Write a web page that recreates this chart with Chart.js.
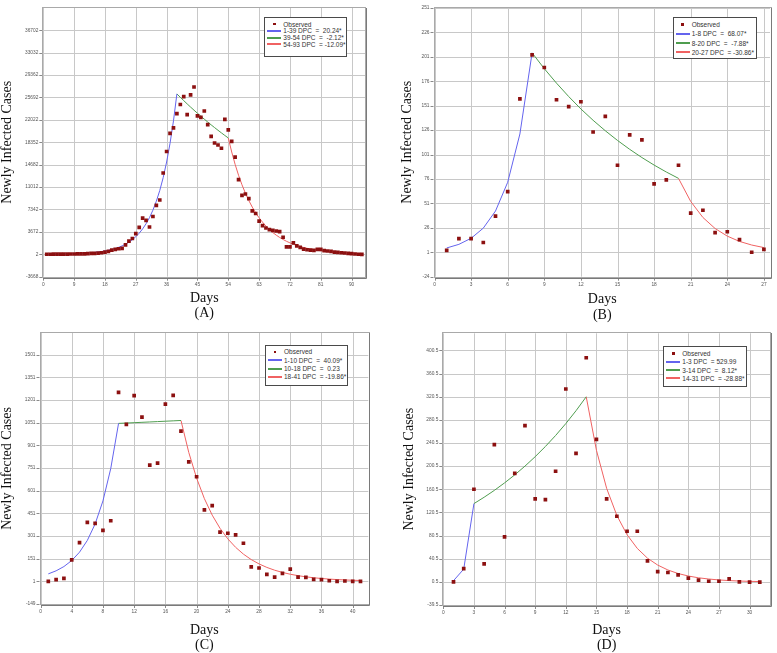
<!DOCTYPE html>
<html>
<head>
<meta charset="utf-8">
<script src="https://cdn.jsdelivr.net/npm/chart.js@4.4.0/dist/chart.umd.min.js"></script>
<style>
  html, body { margin: 0; padding: 0; background: #fff; }
  #page { position: relative; width: 777px; height: 653px; overflow: hidden; }
  canvas { position: absolute; }
  .legend { position: absolute; box-sizing: border-box; background: #fff; border: 1px solid #4a4a4a;
            font: 6.5px "Liberation Sans", Arial, sans-serif; color: #333; }
  .legend .row { display: flex; align-items: center; white-space: pre; }
  .legend .sw { width: 14px; height: 2px; margin: 0 2px 0 2px; flex: none; }
  .legend .dot { width: 2.5px; height: 2.5px; margin: 0 7.7px 0 7.8px; flex: none; }
</style>
</head>
<body>
<div id="page">
  <canvas id="chartA" width="385" height="325" style="left:0;top:0"></canvas>
  <canvas id="chartB" width="387" height="325" style="left:390px;top:0"></canvas>
  <canvas id="chartC" width="385" height="328" style="left:0;top:325px"></canvas>
  <canvas id="chartD" width="387" height="328" style="left:390px;top:325px"></canvas>
</div>
<script>
// ---- (A) ----
const obsA = [10, 15, 20, 25, 30, 35, 40, 50, 55, 60, 70, 80, 120, 140, 160, 180, 260, 370, 490, 700,
              810, 910, 970, 1560, 2150, 2590, 3400, 4420, 5930, 5550, 4470, 6200, 8030, 8900, 13320, 16840, 19800, 20700, 23040, 24540,
              25840, 22880, 26110, 27410, 22670, 22440, 23480, 21260, 19310, 18230, 17910, 17370, 22120, 20400, 18500, 15910, 12240, 9650, 9880, 9110,
              7120, 6690, 5440, 4690, 4310, 4050, 3930, 3820, 3720, 2800, 1230, 1230, 1880, 1390, 1130, 860, 750, 700, 650, 810,
              810, 590, 540, 490, 370, 320, 260, 210, 160, 100, 50, 10, 0];
const fitA1 = [24, 29, 35, 42, 50, 60, 72, 87, 104, 126, 151, 181, 218, 262, 315, 379, 456, 548, 659, 792,
               953, 1145, 1377, 1656, 1991, 2394, 2879, 3461, 4162, 5004, 6017, 7235, 8700, 10460, 12570, 15120, 18180, 21860, 26280];
const fitA2 = [26280, 25720, 25180, 24640, 24120, 23610, 23110, 22620, 22140, 21670, 21210, 20760, 20320, 19890, 19470, 19060];
const fitA3 = [19060, 16760, 14730, 12950, 11390, 10010, 8800, 7740, 6800, 5980, 5260, 4620, 4060, 3570, 3140, 2760, 2430, 2130, 1875, 1650,
               1450, 1275, 1120, 985, 866, 761, 669, 588, 517, 455, 400, 351, 309, 272, 239, 210, 185, 162, 143, 126];
const startA = [1, 1, 39, 54];
const labelsA = ['Observed', '1-39 DPC  =  20.24*', '39-54 DPC  =  -2.12*', '54-93 DPC  = -12.09*'];
const yTicksA = [-3668, 2, 3672, 7342, 11012, 14682, 18352, 22022, 25692, 29362, 33032, 36702];
const xTicksA = [0, 9, 18, 27, 36, 45, 54, 63, 72, 81, 90];

// ---- (B) ----
const obsB = [3, 15, 15, 11, 38, 63, 158, 203, 190, 157, 150, 155, 124, 140, 90, 121, 116, 71, 75, 90, 41, 44, 21, 22, 14, 1, 4];
const fitB1 = [5.4, 9.1, 15.3, 25.7, 43.2, 72.6, 122, 205];
const fitB2 = [205, 188.8, 174, 160.3, 147.6, 136, 125.3, 115.4, 106.3, 97.9, 90.2, 83.1, 76.6];
const fitB3 = [76.6, 53, 36.6, 25.3, 17.5, 12.1, 8.4, 5.8];
const startB = [1, 1, 8, 20];
const labelsB = ['Observed', '1-8 DPC  =  68.07*', '8-20 DPC  =  -7.88*', '20-27 DPC  = -30.86*'];
const yTicksB = [-24, 1, 26, 51, 76, 101, 126, 151, 176, 201, 226, 251];
const xTicksB = [0, 3, 6, 9, 12, 15, 18, 21, 24, 27];

// ---- (C) ----
const obsC = [1, 12, 21, 143, 257, 391, 384, 338, 402, 1251, 1039, 1230, 1087, 770, 783, 1173, 1232, 995, 792, 693,
              474, 502, 327, 319, 308, 253, 97, 89, 47, 29, 54, 82, 29, 27, 14, 12, 5, 1, 3, 1, 1];
const fitC1 = [50.4, 70.5, 98.8, 138.5, 194, 271.7, 380.6, 533, 747, 1046];
const fitC2 = [1046, 1048.4, 1050.8, 1053.2, 1055.6, 1058, 1060.5, 1062.9, 1065.4];
const fitC3 = [1065, 853.5, 684, 548, 439, 352, 282, 226, 181, 145, 116.3, 93.2, 74.7, 59.9, 48, 38.5, 30.8, 24.7, 19.8, 15.9,
               12.7, 10.2, 8.2, 6.5];
const startC = [1, 1, 10, 18];
const labelsC = ['Observed', '1-10 DPC  =  40.09*', '10-18 DPC  =  0.23', '18-41 DPC  = -19.86*'];
const yTicksC = [-149, 1, 151, 301, 451, 601, 751, 901, 1051, 1201, 1351, 1501];
const xTicksC = [0, 4, 8, 12, 16, 20, 24, 28, 32, 36, 40];

// ---- (D) ----
const obsD = [0.5, 23.5, 160.5, 31.6, 237.6, 78.2, 188.1, 270.4, 143.8, 142.6, 191.6, 333.7, 222.6, 387.8, 246.8, 143.8, 113.9, 88, 88, 36.8,
              18.3, 16.6, 12.6, 6.8, 3.4, 1.6, 1.6, 5.7, 0.5, 0, 0];
const fitD1 = [2.5, 22.5, 135.7];
const fitD2 = [135.7, 146.7, 158.6, 171.5, 185.4, 200.5, 216.8, 234.4, 253.4, 274, 296.2, 320.3];
const fitD3 = [320.3, 227.8, 162, 115.2, 81.9, 58.3, 41.4, 29.5, 21, 14.9, 10.6, 7.5, 5.4, 3.8, 2.7, 1.9, 1.4, 1];
const startD = [1, 1, 3, 14];
const labelsD = ['Observed', '1-3 DPC  = 529.99', '3-14 DPC  =  8.12*', '14-31 DPC  = -28.88*'];
const yTicksD = [-39.5, 0.5, 40.5, 80.5, 120.5, 160.5, 200.5, 240.5, 280.5, 320.5, 360.5, 400.5];
const xTicksD = [0, 3, 6, 9, 12, 15, 18, 21, 24, 27, 30];

const OBS_COLOR = '#8c1010';
const FIT_COLORS = ['#6464ee', '#4f9d4f', '#f06262'];
const GRID_COLOR = '#c8c8c8';

const toXY = (vals, start) => vals.map((v, i) => ({x: start + i, y: v}));

// grid lines + small outside tick marks, placed through the chart's scales
const gridPlugin = {
  id: 'plotGrid',
  beforeDatasetsDraw(chart) {
    const {ctx, chartArea: a, scales: {x, y}} = chart;
    ctx.save();
    ctx.lineWidth = 1;
    ctx.strokeStyle = GRID_COLOR;
    ctx.beginPath();
    x.ticks.forEach(t => {
      const px = Math.round(x.getPixelForValue(t.value)) + 0.5;
      ctx.moveTo(px, a.top); ctx.lineTo(px, a.bottom);
    });
    y.ticks.forEach(t => {
      const py = Math.round(y.getPixelForValue(t.value)) + 0.5;
      ctx.moveTo(a.left, py); ctx.lineTo(a.right, py);
    });
    ctx.stroke();
    ctx.strokeStyle = '#8a8a8a';
    ctx.beginPath();
    x.ticks.forEach(t => {
      const px = Math.round(x.getPixelForValue(t.value)) + 0.5;
      ctx.moveTo(px, a.bottom + 1); ctx.lineTo(px, a.bottom + 4);
    });
    y.ticks.forEach(t => {
      const py = Math.round(y.getPixelForValue(t.value)) + 0.5;
      ctx.moveTo(a.left - 4, py); ctx.lineTo(a.left - 1, py);
    });
    ctx.stroke();
    ctx.restore();
  }
};

// grey sunken frame round the plot area, as in the original software
const framePlugin = {
  id: 'frame',
  afterDraw(chart) {
    const {ctx, chartArea: a} = chart;
    ctx.save();
    ctx.lineWidth = 1;
    ctx.strokeStyle = '#a9a9a9';
    ctx.strokeRect(Math.round(a.left) - 0.5, Math.round(a.top) - 0.5,
                   Math.round(a.width) + 1, Math.round(a.height) + 1);
    ctx.strokeStyle = '#7a7a7a';
    ctx.beginPath();
    ctx.moveTo(Math.round(a.right) + 1.5, Math.round(a.top));
    ctx.lineTo(Math.round(a.right) + 1.5, Math.round(a.bottom) + 1.5);
    ctx.lineTo(Math.round(a.left), Math.round(a.bottom) + 1.5);
    ctx.stroke();
    ctx.restore();
  }
};

function buildLegend(chart, box, canvasLeft, canvasTop) {
  const el = document.createElement('div');
  el.className = 'legend';
  Object.assign(el.style, {
    left: (canvasLeft + box.x) + 'px', top: (canvasTop + box.y) + 'px',
    width: box.w + 'px', height: box.h + 'px', paddingTop: box.pad + 'px'
  });
  chart.data.datasets.forEach((ds, i) => {
    const row = document.createElement('div');
    row.className = 'row';
    row.style.height = box.row + 'px';
    const sw = document.createElement('span');
    sw.className = i === 0 ? 'dot' : 'sw';
    sw.style.background = i === 0 ? ds.backgroundColor : ds.borderColor;
    const txt = document.createElement('span');
    txt.textContent = ds.label;
    row.appendChild(sw);
    row.appendChild(txt);
    el.appendChild(row);
  });
  document.getElementById('page').appendChild(el);
}

function makeChart(p) {
  const canvas = document.getElementById(p.id);
  const datasets = [{
    label: p.labels[0],
    data: toXY(p.obs, p.start[0]),
    backgroundColor: OBS_COLOR,
    borderWidth: 0,
    pointStyle: 'rect',
    pointRadius: 2.6
  }];
  p.fits.forEach((f, i) => datasets.push({
    label: p.labels[i + 1],
    data: toXY(f, p.start[i + 1]),
    showLine: true,
    borderColor: FIT_COLORS[i],
    backgroundColor: FIT_COLORS[i],
    borderWidth: 1,
    pointRadius: 0,
    tension: 0
  }));
  const tickFont = {family: '"Liberation Sans", Arial, sans-serif', size: 4.8};
  const titleFont = {family: '"Liberation Serif", "Times New Roman", serif', size: 14, lineHeight: 1.1};
  const chart = new Chart(canvas, {
    type: 'scatter',
    data: {datasets},
    plugins: [gridPlugin, framePlugin],
    options: {
      responsive: false,
      animation: false,
      events: [],
      layout: {padding: p.pad},
      plugins: {legend: {display: false}, tooltip: {enabled: false}},
      scales: {
        x: {
          type: 'linear', min: 0, max: p.xMax,
          afterBuildTicks: s => { s.ticks = p.xTicks.map(v => ({value: v})); },
          afterFit: s => { s.height = p.xH; },
          grid: {display: false, drawTicks: false},
          border: {display: false},
          ticks: {font: tickFont, color: '#555', padding: 5, maxRotation: 0, callback: v => String(v)},
          title: {display: true, text: ['Days', p.tag], font: titleFont, color: '#111', padding: 0}
        },
        y: {
          type: 'linear', min: p.yTicks[0], max: p.yMax,
          afterBuildTicks: s => { s.ticks = p.yTicks.map(v => ({value: v})); },
          afterFit: s => { s.width = p.yW; },
          grid: {display: false, drawTicks: false},
          border: {display: false},
          ticks: {font: tickFont, color: '#555', padding: 5, callback: v => String(v)},
          title: {display: true, text: 'Newly Infected Cases', font: titleFont, color: '#111',
                  padding: {top: p.yTitlePad, bottom: 0}}
        }
      }
    }
  });
  buildLegend(chart, p.legend, p.left, p.top);
  return chart;
}

makeChart({
  id: 'chartA', left: 0, top: 0, tag: '(A)',
  obs: obsA, fits: [fitA1, fitA2, fitA3], start: startA, labels: labelsA,
  xTicks: xTicksA, xMax: 94, yTicks: yTicksA, yMax: 40372,
  pad: {left: 0, top: 4, right: 19.7, bottom: 4}, yW: 43.3, xH: 44.3, yTitlePad: 0,
  legend: {x: 264.3, y: 17.3, w: 83, h: 40, pad: 2.6, row: 6.7}
});
makeChart({
  id: 'chartB', left: 390, top: 0, tag: '(B)',
  obs: obsB, fits: [fitB1, fitB2, fitB3], start: startB, labels: labelsB,
  xTicks: xTicksB, xMax: 27.5, yTicks: yTicksB, yMax: 251,
  pad: {left: 0, top: 2, right: 7, bottom: 2.3}, yW: 44.5, xH: 46, yTitlePad: 9.3,
  legend: {x: 282.7, y: 17.3, w: 84, h: 42, pad: 1.3, row: 9.4}
});
makeChart({
  id: 'chartC', left: 0, top: 325, tag: '(C)',
  obs: obsC, fits: [fitC1, fitC2, fitC3], start: startC, labels: labelsC,
  xTicks: xTicksC, xMax: 42, yTicks: yTicksC, yMax: 1645,
  pad: {left: 0, top: 6.7, right: 16.7, bottom: 0}, yW: 40.5, xH: 49, yTitlePad: 0,
  legend: {x: 265, y: 20, w: 83, h: 41, pad: 1.85, row: 8.3}
});
makeChart({
  id: 'chartD', left: 390, top: 325, tag: '(D)',
  obs: obsD, fits: [fitD1, fitD2, fitD3], start: startD, labels: labelsD,
  xTicks: xTicksD, xMax: 32, yTicks: yTicksD, yMax: 430,
  pad: {left: 0, top: 8.3, right: 7, bottom: 0}, yW: 53.3, xH: 48, yTitlePad: 11.3,
  legend: {x: 273.3, y: 20.7, w: 83.4, h: 41, pad: 2.4, row: 8.4}
});
</script>
</body>
</html>
